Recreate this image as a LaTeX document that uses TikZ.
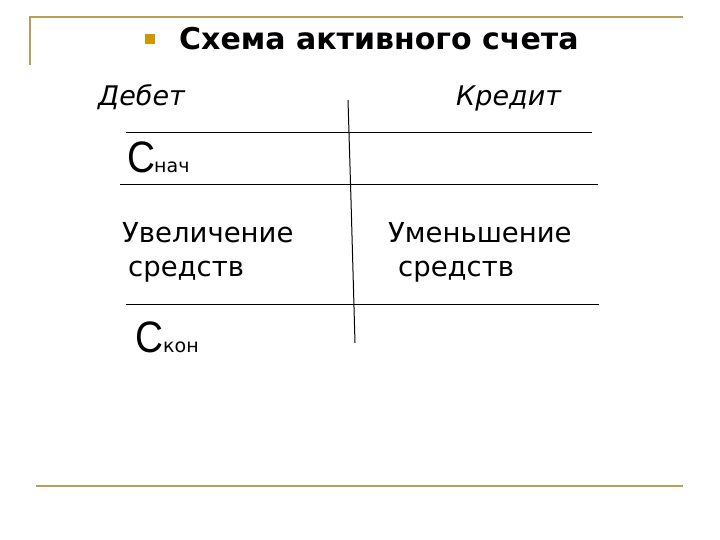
\documentclass[tikz,border=0pt]{standalone}
\usepackage{fontspec}
\setmainfont{DejaVu Sans}
\newfontfamily\capfont{Liberation Sans}
\definecolor{gold}{RGB}{184,160,90}
\definecolor{bulletc}{RGB}{204,153,0}
\begin{document}
\begin{tikzpicture}[x=1pt,y=-1pt,
  frame/.style={draw=gold,line width=2pt},
  rule/.style={draw=black,line width=1pt},
  txt/.style={inner sep=0pt,anchor=base west,font=\fontsize{27.5}{30}\selectfont},
  head/.style={inner sep=0pt,anchor=base west,font=\fontsize{27}{30}\selectfont\itshape},
  big/.style={inner sep=0pt,anchor=base west,font=\capfont\fontsize{44}{48}\selectfont,xscale=0.88},
  sub/.style={inner sep=0pt,anchor=base west,font=\fontsize{19}{22}\selectfont}]
\useasboundingbox (0,0) rectangle (720,540);
% frame
\coordinate (ftl) at (30,17);
\coordinate (ftr) at (683,17);
\coordinate (fbl) at (30,65);
\coordinate (bl) at (36,486);
\coordinate (br) at (683,486);
\draw[frame] (fbl) -- (ftl) -- (ftr);
\draw[frame] (bl) -- (br);
% title
\node[fill=bulletc,minimum size=10pt,inner sep=0pt] (bul) at (150,39) {};
\node[inner sep=0pt,anchor=base west,font=\fontsize{30}{33}\selectfont\bfseries] (title) at (179,50) {Схема активного счета};
% headings
\node[head] (deb) at (98,106) {Дебет};
\node[head] (kred) at (456,106) {Кредит};
% rules
\coordinate (l1a) at (126,133); \coordinate (l1b) at (592,133);
\coordinate (l2a) at (120,185); \coordinate (l2b) at (598,185);
\coordinate (l3a) at (126,304); \coordinate (l3b) at (599,304);
\draw[rule] (l1a) -- (l1b);
\draw[rule] (l2a) -- (l2b);
\draw[rule] (l3a) -- (l3b);
\coordinate (vt) at (348,100);
\coordinate (vm) at (351,200);
\coordinate (vb) at (355,343);
\draw[rule] (vt) -- (vm) -- (vb);
% balances
\node[big] (cn) at (127,173) {С};
\node[sub] (nach) at (154,173) {нач};
\node[big] (ck) at (135,352) {С};
\node[sub] (kon) at (163,352) {кон};
% entries
\node[txt] (inc1) at (122,243) {Увеличение};
\node[txt] (inc2) at (128,276) {средств};
\node[txt] (dec1) at (388,243) {Уменьшение};
\node[txt] (dec2) at (398,276) {средств};
\end{tikzpicture}
\end{document}
